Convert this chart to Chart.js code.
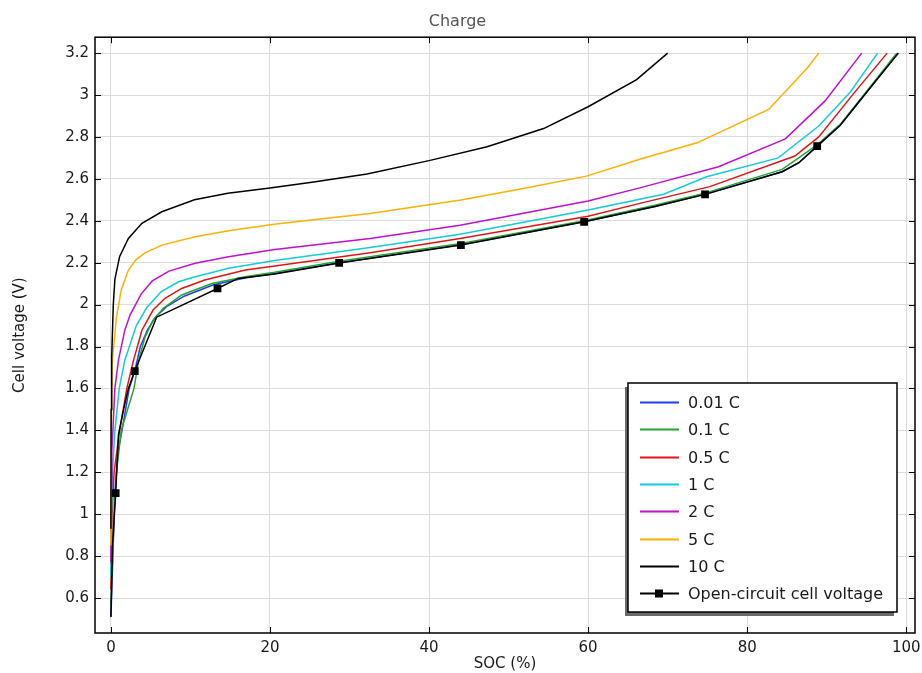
<!DOCTYPE html>
<html>
<head>
<meta charset="utf-8">
<script src="https://cdn.jsdelivr.net/npm/chart.js@4.4.1/dist/chart.umd.min.js"></script>
<style>
  html, body { margin: 0; padding: 0; background: #fff; }
  #wrap { width: 922px; height: 673px; }
</style>
</head>
<body>
<div id="wrap"><canvas id="c"></canvas></div>
<script>
// Charge curves: cell voltage vs SOC for several C-rates + open-circuit voltage.

const xTicks = [0, 20, 40, 60, 80, 100];
const yTicks = [0.6, 0.8, 1, 1.2, 1.4, 1.6, 1.8, 2, 2.2, 2.4, 2.6, 2.8, 3, 3.2];

const seriesNames = ['0.01 C', '0.1 C', '0.5 C', '1 C', '2 C', '5 C', '10 C', 'Open-circuit cell voltage'];

const soc001 = [0, 0.5, 0.9, 1.4, 2.3, 3.0, 3.7, 4.6, 5.6, 7.0, 9.2, 12.9, 17, 20.6, 28.7, 44, 59.5, 68.4, 74.7, 84.4, 86.5, 88.8, 91.7, 95.9, 99];
const v001   = [0.51, 1.1, 1.3, 1.4, 1.6, 1.683, 1.80, 1.88, 1.94, 1.99, 2.04, 2.095, 2.128, 2.148, 2.20, 2.285, 2.395, 2.468, 2.526, 2.634, 2.677, 2.756, 2.856, 3.055, 3.2];

const soc01 = [0, 0.4, 0.7, 1.3, 2.9, 3.5, 4.3, 5.3, 6.6, 8.9, 12.7, 16.9, 20.6, 28.7, 44, 59.5, 68.4, 74.7, 84.4, 88.8, 91.7, 95.9, 98.8];
const v01   = [0.56, 1.0, 1.2, 1.4, 1.6, 1.735, 1.846, 1.926, 1.982, 2.046, 2.101, 2.133, 2.154, 2.207, 2.292, 2.40, 2.474, 2.532, 2.645, 2.762, 2.86, 3.06, 3.2];

const soc05 = [0, 0.15, 0.4, 1.1, 2.0, 2.85, 3.9, 5.3, 6.8, 8.9, 11.8, 16.9, 20.6, 32.6, 43.9, 60, 66.5, 75.3, 86, 89, 93.4, 97.6];
const v05   = [0.64, 1.0, 1.2, 1.4, 1.6, 1.735, 1.878, 1.974, 2.03, 2.077, 2.117, 2.165, 2.184, 2.247, 2.316, 2.422, 2.483, 2.563, 2.709, 2.80, 3.008, 3.2];

const soc1 = [0, 0.08, 0.2, 0.5, 1.05, 1.75, 3.2, 4.5, 6.3, 8.5, 10.6, 14.8, 20.6, 32.6, 43.9, 60, 69.5, 74.9, 83.9, 89, 93, 96.4];
const v1   = [0.70, 1.0, 1.2, 1.4, 1.6, 1.735, 1.9, 1.985, 2.061, 2.109, 2.133, 2.173, 2.21, 2.273, 2.336, 2.451, 2.527, 2.61, 2.70, 2.852, 3.016, 3.2];

const soc2 = [0, 0.05, 0.12, 0.25, 0.5, 0.95, 1.75, 2.4, 3.8, 5.2, 7.3, 10.6, 14.8, 20.6, 32.6, 43.9, 60, 66.5, 76.4, 84.8, 89.8, 94.4];
const v2   = [0.77, 1.1, 1.3, 1.4, 1.6, 1.735, 1.878, 1.95, 2.05, 2.113, 2.16, 2.197, 2.228, 2.263, 2.316, 2.379, 2.494, 2.557, 2.658, 2.791, 2.972, 3.2];

const soc5 = [0, 0.05, 0.17, 0.7, 1.3, 2.2, 3.2, 4.3, 6.4, 10.6, 14.8, 20.5, 26, 32.6, 44, 52, 59.8, 66.5, 73.7, 82.7, 87.5, 89];
const v5   = [0.85, 1.4, 1.73, 1.94, 2.07, 2.165, 2.216, 2.247, 2.284, 2.324, 2.352, 2.383, 2.407, 2.435, 2.499, 2.555, 2.613, 2.694, 2.772, 2.931, 3.127, 3.2];

const soc10 = [0, 0.03, 0.1, 0.3, 0.5, 1.1, 2.2, 3.9, 6.4, 10.5, 14.7, 20, 25.5, 32.2, 40, 47.3, 54.4, 60, 66.1, 70];
const v10   = [0.93, 1.5, 1.75, 2.0, 2.12, 2.23, 2.316, 2.388, 2.443, 2.5, 2.531, 2.556, 2.585, 2.623, 2.687, 2.753, 2.84, 2.944, 3.074, 3.2];

// open-circuit voltage: marked points + the other line vertices
const ocvMarkSoc = [0.6, 3.0, 13.4, 28.7, 44.0, 59.5, 74.7, 88.8];
const ocvMarkV   = [1.10, 1.683, 2.077, 2.199, 2.284, 2.395, 2.526, 2.756];
const ocvSoc = [0, 0.2, 0.95, 1.6, 2.2, 5.75, 16, 20.6, 68.4, 84.4, 86.5, 91.7, 95.9, 99];
const ocvV   = [0.51, 0.85, 1.38, 1.5, 1.6, 1.94, 2.125, 2.146, 2.468, 2.634, 2.677, 2.856, 3.055, 3.2];

const COLORES = ['#1f3ff0', '#22a52e', '#e01414', '#10cdd6', '#c010d0', '#ffb000', '#000000', '#000000'];

const pts = (xs, ys) => xs.map((x, i) => ({ x: x, y: ys[i] }));
const ocvLine = pts(ocvSoc.concat(ocvMarkSoc), ocvV.concat(ocvMarkV)).sort((a, b) => a.x - b.x);

const curvas = [pts(soc001, v001), pts(soc01, v01), pts(soc05, v05), pts(soc1, v1),
                pts(soc2, v2), pts(soc5, v5), pts(soc10, v10), ocvLine];

const datasets = curvas.map((d, i) => ({
  label: seriesNames[i], data: d, showLine: true, borderColor: COLORES[i], backgroundColor: COLORES[i],
  borderWidth: 1.5, pointRadius: 0, tension: 0, order: -i,
}));
datasets.push({
  label: 'marks', data: pts(ocvMarkSoc, ocvMarkV), showLine: false, pointStyle: 'rect',
  pointRadius: 5.5, backgroundColor: '#000', borderColor: '#000', borderWidth: 0, order: -9,
});

const FONT = 'DejaVu Sans';

// marco + marcas internas en los 4 lados
const marco = {
  id: 'marco',
  afterDatasetsDraw(chart) {
    const { ctx, chartArea: a, scales } = chart;
    ctx.save();
    ctx.strokeStyle = '#000';
    ctx.lineWidth = 1;
    ctx.beginPath();
    xTicks.forEach(t => {
      const x = Math.round(scales.x.getPixelForValue(t)) + 0.5;
      ctx.moveTo(x, a.bottom); ctx.lineTo(x, a.bottom - 6);
      ctx.moveTo(x, a.top); ctx.lineTo(x, a.top + 6);
    });
    yTicks.forEach(t => {
      const y = Math.round(scales.y.getPixelForValue(t)) + 0.5;
      ctx.moveTo(a.left, y); ctx.lineTo(a.left + 6, y);
      ctx.moveTo(a.right, y); ctx.lineTo(a.right - 6, y);
    });
    ctx.stroke();
    ctx.lineWidth = 1.5;
    ctx.strokeRect(a.left, a.top, a.right - a.left, a.bottom - a.top);
    ctx.restore();
  },
};

// leyenda dentro del área, con sombra
const leyenda = {
  id: 'leyenda',
  afterDraw(chart) {
    const ctx = chart.ctx;
    const bx = 628, by = 383, bw = 269, bh = 229;
    ctx.save();
    ctx.fillStyle = '#6a6a6a';
    ctx.fillRect(bx - 3, by + 4, bw, bh);
    ctx.fillStyle = '#fff';
    ctx.fillRect(bx, by, bw, bh);
    ctx.strokeStyle = '#000';
    ctx.lineWidth = 1.5;
    ctx.strokeRect(bx, by, bw, bh);
    ctx.font = '16px "' + FONT + '"';
    ctx.textBaseline = 'middle';
    seriesNames.forEach((name, i) => {
      const y = Math.round(by + 19 + i * 27.3) + 0.5;
      ctx.strokeStyle = COLORES[i];
      ctx.lineWidth = 2;
      ctx.beginPath(); ctx.moveTo(640, y); ctx.lineTo(679, y); ctx.stroke();
      if (i === seriesNames.length - 1) {
        ctx.fillStyle = '#000';
        ctx.fillRect(655, y - 4, 8, 8);
      }
      ctx.fillStyle = '#1a1a1a';
      ctx.fillText(name, 688, y + 1);
    });
    ctx.restore();
  },
};

new Chart(document.getElementById('c'), {
  type: 'scatter',
  data: { datasets },
  options: {
    responsive: true, maintainAspectRatio: false, animation: false,
    layout: { padding: { left: 0, right: 7, top: 0, bottom: 0 } },
    plugins: {
      legend: { display: false },
      tooltip: { enabled: false },
      title: { display: true, text: 'Charge', color: '#555', font: { family: FONT, size: 16, weight: 'normal' },
               padding: { top: 12, bottom: 6 } },
    },
    scales: {
      x: {
        type: 'linear', min: -2, max: 101.1,
        afterBuildTicks: s => { s.ticks = xTicks.map(v => ({ value: v })); },
        afterFit: s => { s.height = 40; s.paddingLeft = 0; s.paddingRight = 0; },
        grid: { color: '#dcdcdc', drawTicks: false },
        border: { display: false },
        ticks: { color: '#1a1a1a', padding: 6, font: { family: FONT, size: 15 }, maxRotation: 0, callback: v => String(v) },
        title: { display: true, text: 'SOC (%)', color: '#1a1a1a', font: { family: FONT, size: 15 }, padding: { top: 0, bottom: 0 } },
      },
      y: {
        type: 'linear', min: 0.433, max: 3.276,
        afterBuildTicks: s => { s.ticks = yTicks.map(v => ({ value: v })); },
        afterFit: s => { s.width = 95; s.paddingTop = 0; s.paddingBottom = 0; },
        grid: { color: '#dcdcdc', drawTicks: false },
        border: { display: false },
        ticks: { color: '#1a1a1a', padding: 6, font: { family: FONT, size: 15 }, callback: v => String(v) },
        title: { display: true, text: 'Cell voltage (V)', color: '#1a1a1a', font: { family: FONT, size: 15 }, padding: { top: 11, bottom: 0 } },
      },
    },
  },
  plugins: [marco, leyenda],
});
</script>
</body>
</html>
